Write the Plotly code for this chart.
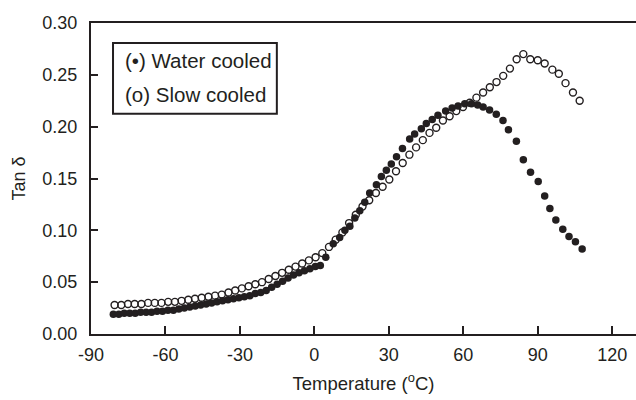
import plotly.graph_objects as go

# Slow cooled (open circles)
slow_T = [-80.5, -77.8, -75.1, -72.4, -69.7, -67.0, -64.3, -61.6, -58.9, -56.2,
          -53.5, -50.8, -48.1, -45.4, -42.7, -40.0, -37.3, -34.6, -31.9, -29.2,
          -26.5, -23.8, -21.1, -18.4, -15.7, -13.0, -10.3, -7.6, -4.9, -2.2,
          0.5, 3.2, 5.9, 8.6, 11.3, 14.0, 16.7, 19.4, 22.1, 24.8,
          27.5, 30.2, 32.9, 35.6, 38.3, 41.0, 43.7, 46.4, 49.1, 51.8,
          54.5, 57.2, 59.9, 62.6, 65.3, 68.0, 70.7, 73.4, 76.1, 78.8,
          81.5, 84.2, 87.0, 90.0, 92.8, 95.9, 98.5, 101.2, 104.2, 106.9]
slow_tan = [0.028, 0.028, 0.029, 0.029, 0.029, 0.030, 0.030, 0.030, 0.031, 0.031,
            0.032, 0.033, 0.034, 0.035, 0.036, 0.037, 0.038, 0.040, 0.042, 0.044,
            0.046, 0.048, 0.050, 0.053, 0.056, 0.059, 0.062, 0.065, 0.068, 0.071,
            0.074, 0.078, 0.084, 0.091, 0.098, 0.107, 0.115, 0.123, 0.129, 0.136,
            0.142, 0.149, 0.157, 0.165, 0.173, 0.180, 0.187, 0.194, 0.199, 0.206,
            0.210, 0.215, 0.219, 0.223, 0.228, 0.233, 0.238, 0.243, 0.249, 0.256,
            0.265, 0.270, 0.265, 0.264, 0.261, 0.255, 0.251, 0.242, 0.233, 0.225]

# Water cooled (filled circles)
water_T = [-81.0, -78.8, -76.6, -74.4, -72.2, -70.0, -67.8, -65.6, -63.4, -61.2,
           -59.0, -56.8, -54.6, -52.4, -50.2, -48.0, -45.8, -43.6, -41.4, -39.2,
           -37.0, -34.8, -32.6, -30.4, -28.2, -26.0, -23.8, -21.6, -19.4, -17.2,
           -15.0, -12.8, -10.6, -8.4, -6.2, -4.0, -1.8, 0.4, 2.4, 4.6,
           7.6, 10.2, 12.3, 14.3, 16.3, 18.3, 20.3, 22.3, 25.0, 27.0,
           29.0, 31.0, 33.1, 35.5, 38.4, 40.4, 43.1, 45.1, 47.5, 49.8,
           52.9, 55.5, 57.9, 60.6, 63.3, 65.8, 68.0, 70.6, 73.3, 76.0,
           78.2, 81.4, 84.2, 87.1, 90.2, 92.8, 94.9, 97.3, 100.1, 102.6,
           105.2, 107.9]
water_tan = [0.019, 0.019, 0.020, 0.020, 0.020, 0.021, 0.021, 0.021, 0.022, 0.022,
             0.023, 0.023, 0.024, 0.025, 0.026, 0.027, 0.028, 0.029, 0.030, 0.031,
             0.032, 0.033, 0.034, 0.035, 0.036, 0.037, 0.039, 0.040, 0.042, 0.045,
             0.048, 0.051, 0.054, 0.057, 0.059, 0.061, 0.063, 0.065, 0.066, 0.074,
             0.087, 0.093, 0.100, 0.104, 0.112, 0.119, 0.127, 0.136, 0.144, 0.152,
             0.158, 0.164, 0.171, 0.179, 0.188, 0.193, 0.198, 0.203, 0.207, 0.211,
             0.215, 0.218, 0.220, 0.222, 0.222, 0.221, 0.219, 0.216, 0.212, 0.206,
             0.197, 0.186, 0.168, 0.156, 0.147, 0.133, 0.121, 0.110, 0.101, 0.094,
             0.089, 0.082]

x_ticks = [-90, -60, -30, 0, 30, 60, 90, 120]
y_ticks = [0.00, 0.05, 0.10, 0.15, 0.20, 0.25, 0.30]
legend_lines = ["(•) Water cooled", "(o) Slow cooled"]

FONT = "Liberation Sans, Arial, Helvetica, sans-serif"
INK = "#231f20"

fig = go.Figure()
fig.add_trace(go.Scatter(
    x=slow_T, y=slow_tan, mode="markers", name="Slow cooled",
    marker=dict(symbol="circle-open", size=7, color=INK, line=dict(width=1.4, color=INK)),
))
fig.add_trace(go.Scatter(
    x=water_T, y=water_tan, mode="markers", name="Water cooled",
    marker=dict(symbol="circle", size=7.5, color=INK, line=dict(width=0)),
))

fig.update_layout(
    width=636, height=400,
    margin=dict(l=91, r=0, t=23, b=66),
    paper_bgcolor="white", plot_bgcolor="white",
    showlegend=False,
    font=dict(family=FONT, size=18, color=INK),
    xaxis=dict(
        range=[-90, 129.6], tickvals=x_ticks, ticktext=[str(v) for v in x_ticks],
        showgrid=False, zeroline=False, showline=True, linecolor=INK, linewidth=2,
        mirror=True, ticks="inside", ticklen=8, tickwidth=1.5, tickcolor=INK,
        tickfont=dict(size=18), ticklabelstandoff=3,
        title=dict(text="Temperature (<sup>o</sup>C)", font=dict(size=18.5), standoff=13),
    ),
    yaxis=dict(
        range=[0, 0.30], tickvals=y_ticks, ticktext=[f"{v:.2f}" for v in y_ticks],
        showgrid=False, zeroline=False, showline=True, linecolor=INK, linewidth=2,
        ticks="inside", ticklen=7, tickwidth=1.5, tickcolor=INK,
        tickfont=dict(size=18), ticklabelstandoff=8,
        title=dict(text="Tan δ", font=dict(size=18), standoff=12),
    ),
)

# legend box (paper coords)
fig.add_shape(type="rect", xref="paper", yref="paper",
              x0=0.0404, x1=0.341, y0=0.708, y1=0.9357,
              line=dict(color=INK, width=2), fillcolor="white", layer="above")
fig.add_annotation(xref="paper", yref="paper", x=0.058, y=0.881, xanchor="left",
                   yanchor="middle", text=legend_lines[0], showarrow=False,
                   font=dict(size=20.5, color=INK))
fig.add_annotation(xref="paper", yref="paper", x=0.058, y=0.7685, xanchor="left",
                   yanchor="middle", text=legend_lines[1], showarrow=False,
                   font=dict(size=20.5, color=INK))

fig.write_html("out.html")
